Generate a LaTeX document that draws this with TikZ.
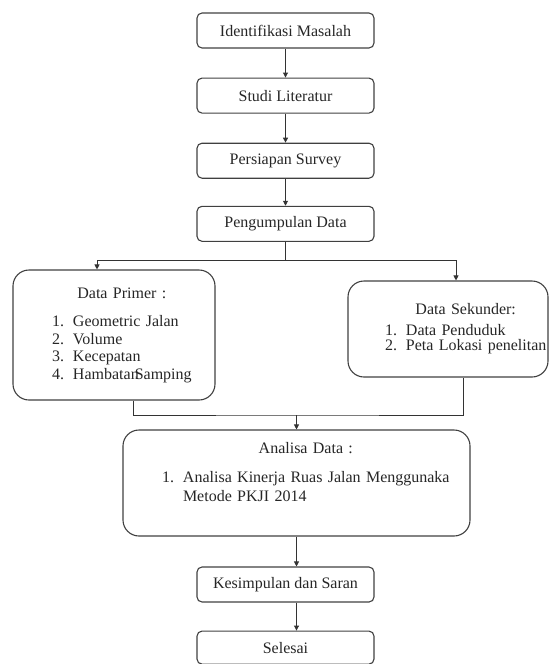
\documentclass[tikz,border=0pt]{standalone}
\usepackage{fontspec}
\setmainfont{Liberation Serif}
\usetikzlibrary{arrows.meta,positioning}

\begin{document}
\begin{tikzpicture}[
    x=1pt, y=-1pt,
    stage/.style={draw=black!75, line width=1.1pt, rounded corners=5pt, minimum width=177pt, minimum height=35pt, inner sep=2pt},
    block/.style={draw=black!75, line width=1.1pt, rounded corners=16pt, inner sep=4pt, align=left},
    flow/.style={draw=black!80, line width=0.9pt, -{Triangle[length=5pt,width=5pt]}},
    link/.style={draw=black!80, line width=0.9pt},
    font=\fontsize{16}{17.5}\selectfont, text=black!85,
    node distance=29pt
]
\useasboundingbox (0,0) rectangle (549,664);
\node[stage] (ident) at (285.5,30.5) {Identifikasi Masalah};
\node[stage, below=of ident] (studi) {Studi Literatur};
\node[stage, below=of studi] (siap) {Persiapan Survey};
\node[stage, below=27pt of siap] (kumpul) {Pengumpulan Data};
\node[block, text width=194pt, minimum height=130pt] (primer) at (114,335) {\hspace*{35pt}\begin{tabular}{@{}l@{\hspace{9pt}}l@{}}
    \multicolumn{2}{c}{Data Primer :}\\[11pt]
    1. & Geometric Jalan\\
    2. & Volume\\
    3. & Kecepatan\\
    4. & Hambatan\kern-4pt Samping
  \end{tabular}};
\node[block, text width=192pt, minimum height=96pt] (sekunder) at (448,329) {\hspace*{33pt}\begin{tabular}{@{}l@{\hspace{9pt}}l@{}}
    \multicolumn{2}{c}{Data Sekunder:}\\[3pt]
    1. & Data Penduduk\\[-2.5pt]
    2. & Peta Lokasi penelitan
  \end{tabular}};
\node[block, text width=339pt, minimum height=106pt] (analisa) at (296.5,483) {\hspace*{35pt}\begin{tabular}{@{}l@{\hspace{9pt}}l@{}}
    \multicolumn{2}{c}{Analisa Data :}\\[11pt]
    1. & Analisa Kinerja Ruas Jalan Menggunaka\\[2pt]
       & Metode PKJI 2014\\
       &
  \end{tabular}};
\node[stage] (simpul) at (285.5,584.5) {Kesimpulan dan Saran};
\node[stage, minimum height=33pt, below=28pt of simpul] (selesai) {Selesai};

% connectors
\coordinate (split) at ([yshift=-19pt]kumpul.south);
\coordinate (join) at (296.5,415);
\draw[flow] (ident) -- (studi);
\draw[flow] (studi) -- (siap);
\draw[flow] (siap) -- (kumpul);
\draw[link] (kumpul) -- (split);
\draw[flow] (split) -| ([xshift=-17pt]primer.north);
\draw[flow] (split) -| ([xshift=8pt]sekunder.north);
\draw[link] ([xshift=19pt]primer.south) |- (join) -| ([xshift=15pt]sekunder.south);
\draw[flow] (join) -- (analisa.north);
\draw[flow] (analisa.south) -- (analisa.south |- simpul.north);
\draw[flow] (analisa.south |- simpul.south) -- (analisa.south |- selesai.north);
\end{tikzpicture}
\end{document}
